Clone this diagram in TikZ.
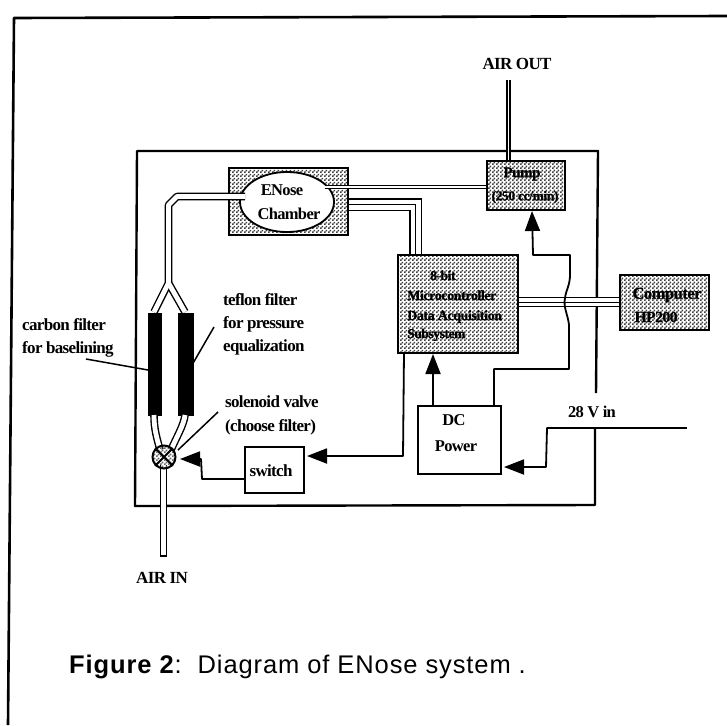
\documentclass[tikz,border=0pt]{standalone}
\usepackage{fontspec}
\setmainfont{Liberation Serif}
\newfontfamily\capfont{Liberation Sans}
\usetikzlibrary{arrows.meta,patterns,calc,shapes.geometric}
\newcommand\rfont[1]{\bfseries\fontsize{#1}{#1}\selectfont\addfontfeatures{LetterSpace=-4}}
\newcommand\bxfont[1]{\bfseries\fontsize{#1}{#1}\selectfont\addfontfeatures{LetterSpace=-3,FakeBold=1}}
\pgfdeclarepatternformonly{dither}{\pgfqpoint{0pt}{0pt}}{\pgfqpoint{4pt}{4pt}}{\pgfqpoint{4pt}{4pt}}{
  \pgfpathrectangle{\pgfqpoint{0pt}{0pt}}{\pgfqpoint{2pt}{2pt}}
  \pgfpathrectangle{\pgfqpoint{2pt}{2pt}}{\pgfqpoint{2pt}{2pt}}
  \pgfusepath{fill}
}
\tikzset{
  wall/.style={line width=2.4pt,line join=round},
  wire/.style={line width=1.8pt,line join=round},
  arrowwire/.style={wire,-{Triangle[length=20pt,width=15pt]}},
  lead/.style={line width=1.5pt},
  box/.style={draw,line width=2pt,inner sep=0pt,anchor=north west},
  dotbox/.style={box,pattern=dither,pattern color=black!75},
  lab/.style={font=\rfont{17},inner sep=0pt,anchor=base west},
  clab/.style={font=\rfont{15},inner sep=0pt,anchor=center},
  bxlab/.style={inner sep=0pt,anchor=base west},
  tubeout/.style={line width=7.6pt,line join=round},
  tubein/.style={white,line width=4.8pt,line join=round},
  thintube/.style={line width=1.5pt,double=white,double distance=1.3pt},
  bigtube/.style={line width=1.3pt,double=white,double distance=10pt,line join=miter},
  midline/.style={line width=1.3pt,line join=miter},
}
\begin{document}
\begin{tikzpicture}[x=1pt,y=-1pt]
\useasboundingbox (0,0) rectangle (727,725);
\fill[white] (0,0) rectangle (727,725);
% outer frame
\draw[wall,line width=2.6pt] (8,725) -- (14,18) -- (727,16);
% inner frame
\coordinate (wTL) at (137,151);
\coordinate (wTR) at (598,151);
\coordinate (wBR) at (595,505);
\coordinate (wBL) at (135,506);
\coordinate (wEnd) at (596,393);
\coordinate (wStart) at (595,428);
\draw[wall] (wEnd) -- (wTR) -- (wTL) -- (wBL) -- (wBR) -- (wStart);
% boxes
\node[dotbox,minimum width=119pt,minimum height=67pt] (chamberbox) at (228,167) {};
\node[dotbox,minimum width=78pt,minimum height=49pt] (pump) at (486,160) {};
\node[dotbox,minimum width=120pt,minimum height=98pt] (mcu) at (397,254) {};
\node[dotbox,minimum width=89pt,minimum height=55pt] (computer) at (619,274) {};
\node[box,fill=white,minimum width=83pt,minimum height=68pt] (dc) at (417,405) {};
\node[box,fill=white,minimum width=59pt,minimum height=46pt] (switch) at (244,446) {};
% chamber
\node[draw,fill=white,line width=1.8pt,ellipse,minimum width=94pt,minimum height=60pt,inner sep=0pt] (chamber) at (287,202) {};
% filters
\node[box,fill=black,minimum width=12pt,minimum height=101pt] (fl) at (148,313) {};
\node[box,fill=black,minimum width=14pt,minimum height=101pt] (fr) at (178,313) {};
% coordinates
\coordinate (split) at (168.5,283);
\coordinate (flT) at (154,312);
\coordinate (frT) at (185,312);
\coordinate (flB) at (154,415);
\coordinate (frB) at (185,415);
\coordinate (valveC) at (164,457);
% tubes
\foreach \st/\e in {tubeout/557,tubein/555}{
  \draw[\st] (245,196.5) -- (177,196.5) -- (168.5,205) -- (split) -- (flT);
  \draw[\st] (split) -- (frT);
  \draw[\st] (flB) .. controls (154,430) and (157,438) .. (160,450);
  \draw[\st] (frB) .. controls (184,425) and (176,438) .. (171,450);
  \draw[\st] (163.5,465) -- (163.5,\e);
}
% valve
\node[draw,circle,fill=white,line width=2pt,minimum size=23pt,inner sep=0pt,pattern=dither,pattern color=black!60] (valve) at (valveC) {};
\draw[line width=2pt] (valve.45) -- (valve.225) (valve.135) -- (valve.315);
\draw[thintube] (325,187) -- (pump.west |- 0,187);
\coordinate (airouttop) at (508.5,80);
\draw[thintube] (airouttop) -- (pump.north -| airouttop);
\draw[bigtube] (chamberbox.east |- 0,204.5) -- (415.5,204.5) -- (415.5,254);
\draw[midline] (chamberbox.east |- 0,204.5) -- (415.5,204.5) -- (415.5,254);
\draw[bigtube,double distance=8pt] (mcu.east |- 0,302) -- (computer.west |- 0,302);
\draw[midline,line width=1pt] (mcu.east |- 0,302) -- (computer.west |- 0,302);
% wires
\draw[arrowwire] (dc.north -| 433,0) -- (mcu.south -| 433,0);
\draw[arrowwire] (494,405) -- (494,369) -- (569,369) -- (569,325)
   .. controls (568,315) and (563,307) .. (565,298) .. controls (566,290) and (570,285) .. (570,275)
   -- (570,255) -- (533,255) -- (pump.south -| 532,0);
\draw[arrowwire] (404,352) -- (403,456) -- (307,456);
\coordinate (in28) at (687,428);
\draw[line width=1.2pt] (in28) -- (595,428);
\draw[arrowwire] (595,428) -- (547,428) -- (546,467) -- (504,467);
\draw[arrowwire] (switch.west |- 0,479) -- (202,479) -- (201,459) -- (180,459);
% leaders
\coordinate (lc) at (86,359);
\coordinate (lt) at (214,327);
\coordinate (ls) at (218,412);
\draw[lead] (lc) -- (fl.west |- 0,370);
\draw[lead] (lt) -- (192,365);
\draw[lead] (ls) -- (178,450);
% labels
\node[lab] (t1) at (223,305) {teflon filter};
\node[lab] (t2) at (223,328) {for pressure};
\node[lab] (t3) at (223,351) {equalization};
\node[lab] (c1) at (22,330) {carbon filter};
\node[lab] (c2) at (22,353) {for baselining};
\node[lab] (s1) at (225,407) {solenoid valve};
\node[lab] (s2) at (225,431) {(choose filter)};
\node[clab,font=\rfont{17}] (tsw) at (271,471) {switch};
\node[clab,font=\rfont{16.5}] (tdc) at (454,420) {DC};
\node[clab,font=\rfont{16.5}] (tpw) at (456,446) {Power};
\node[clab,font=\rfont{16.5}] (t28) at (592,412) {28 V in};
\node[clab,font=\rfont{17}] (tout) at (517,64) {AIR OUT};
\node[clab,font=\rfont{17}] (tin) at (162,578) {AIR IN};
\node[clab,font=\rfont{16.5}] (te) at (282,190) {ENose};
\node[clab,font=\rfont{16.5}] (tc) at (289,214) {Chamber};
\node[clab,font=\bxfont{15}] (tp1) at (522,174) {Pump};
\node[clab,font=\bxfont{13.5}] (tp2) at (525,197) {(250 cc/min)};
\node[bxlab,font=\bxfont{13.5}] (tm1) at (430,280) {8-bit};
\node[bxlab,font=\bxfont{14}] (tm2) at (407,300) {Microcontroller};
\node[bxlab,font=\bxfont{14}] (tm3) at (407,320) {Data Acquisition};
\node[bxlab,font=\bxfont{13.5}] (tm4) at (407,338) {Subsystem};
\node[clab,font=\bxfont{16.5}] (tc1) at (667,295) {Computer};
\node[clab,font=\bxfont{15.5}] (tc2) at (656,317) {HP200};
\node[inner sep=0pt,anchor=base west,font=\capfont\fontsize{25.5}{27}\selectfont\addfontfeatures{LetterSpace=3.5}] (cap) at (69,673) {\textbf{Figure 2}:\ \ Diagram of ENose system .};
\end{tikzpicture}
\end{document}
